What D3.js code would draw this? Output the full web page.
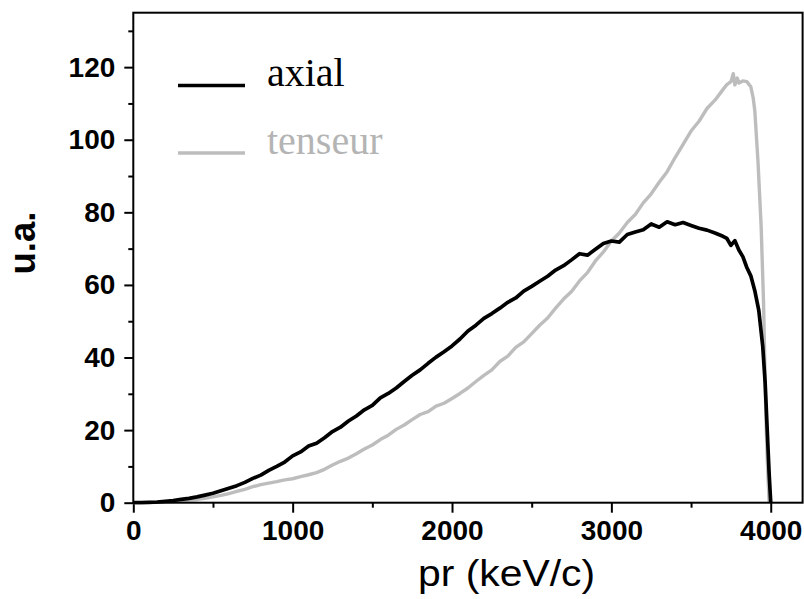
<!DOCTYPE html>
<html><head><meta charset="utf-8">
<script src="https://cdn.jsdelivr.net/npm/d3@7"></script>
<style>html,body{margin:0;padding:0;background:#fff;}svg{display:block;}</style>
</head><body>
<svg id="c" width="804" height="599"></svg>
<script>
const xTicks = [0, 1000, 2000, 3000, 4000];
const xMinor = [500, 1500, 2500, 3500];
const yTicks = [0, 20, 40, 60, 80, 100, 120];
const yMinor = [10, 30, 50, 70, 90, 110, 130];

const axialX = [0,50,100,150,200,250,300,350,400,450,500,550,600,650,700,750,800,850,900,950,1000,1050,1100,1150,1200,1250,1300,1350,1400,1450,1500,1550,1600,1650,1700,1750,1800,1850,1900,1950,2000,2050,2100,2150,2200,2250,2300,2350,2400,2450,2500,2550,2600,2650,2700,2750,2800,2850,2900,2950,3000,3050,3100,3150,3200,3250,3300,3350,3400,3450,3500,3550,3600,3650,3700,3725,3750,3775,3800,3825,3850,3875,3900,3925,3950,3965,3980,3990,4000];
const axialY = [0,0,0.1,0.2,0.4,0.6,0.9,1.2,1.6,2.1,2.6,3.3,4.0,4.7,5.6,6.7,7.6,8.9,10.0,11.2,12.9,14.0,15.6,16.4,17.9,19.6,20.8,22.5,23.9,25.6,26.8,28.9,30.1,31.6,33.4,35.1,36.6,38.4,40.1,41.6,43.2,45.1,47.3,48.9,50.8,52.1,53.6,55.2,56.4,58.3,59.6,61.0,62.4,64.1,65.3,66.9,68.6,68.2,69.8,71.4,72.1,71.8,73.9,74.6,75.2,76.8,75.9,77.4,76.6,77.2,76.4,75.6,75.1,74.3,73.4,72.8,70.9,72.2,69.6,67.8,64.8,62.5,58.4,53.0,43.0,33,18,8,0];

const tenseurX = [0,50,100,150,200,250,300,350,400,450,500,550,600,650,700,750,800,850,900,950,1000,1050,1100,1150,1200,1250,1300,1350,1400,1450,1500,1550,1600,1650,1700,1750,1800,1850,1900,1950,2000,2050,2100,2150,2200,2250,2300,2350,2400,2450,2500,2550,2600,2650,2700,2750,2800,2850,2900,2950,3000,3050,3100,3150,3200,3250,3300,3350,3400,3450,3500,3550,3600,3650,3700,3725,3750,3765,3775,3790,3800,3825,3850,3875,3890,3900,3920,3940,3955,3970,3980,3990];
const tenseurY = [0,0,0.05,0.1,0.2,0.3,0.5,0.7,0.9,1.2,1.6,2.0,2.5,3.1,3.7,4.4,5.0,5.4,5.8,6.3,6.6,7.2,7.7,8.3,9.2,10.4,11.4,12.3,13.5,14.8,15.9,17.4,18.6,20.2,21.4,22.9,24.3,25.1,26.6,27.4,28.7,30.1,31.6,33.4,35.1,36.6,38.9,40.4,42.8,44.3,46.6,48.9,50.9,53.6,56.1,58.2,61.1,63.4,66.6,69.1,72.1,74.3,77.2,79.4,82.6,85.1,88.3,91.2,95.1,98.7,102.4,105.1,108.6,110.9,113.8,115.2,116.0,118.2,115.1,117.0,115.6,116.2,116.0,114.6,111.5,108.0,94.0,76.0,55.0,23.0,10,0];

const seriesNames = ["axial", "tenseur"];
const seriesColors = ["#000000", "#bdbdbd"];

const svg = d3.select("#c");
const L = 133.3, R = 802.6, T = 12.7, B = 502.7;
const x = d3.scaleLinear().domain([0, 4200]).range([L, R]);
const y = d3.scaleLinear().domain([0, 135]).range([B, T]);

const font = "'Liberation Sans', Arial, sans-serif";

const gx = svg.append("g").attr("transform", `translate(0,${B})`)
  .call(d3.axisBottom(x).tickValues(xTicks).tickSize(10).tickPadding(7).tickFormat(d3.format("d")));
const gxm = svg.append("g").attr("transform", `translate(0,${B})`)
  .call(d3.axisBottom(x).tickValues(xMinor).tickSize(5).tickFormat(""));
const gy = svg.append("g").attr("transform", `translate(${L},0)`)
  .call(d3.axisLeft(y).tickValues(yTicks).tickSize(9).tickPadding(9).tickFormat(d3.format("d")));
const gym = svg.append("g").attr("transform", `translate(${L},0)`)
  .call(d3.axisLeft(y).tickValues(yMinor).tickSize(5).tickFormat(""));
[gx, gxm, gy, gym].forEach(g => {
  g.select(".domain").remove();
  g.selectAll(".tick line").attr("stroke", "#000").attr("stroke-width", 2);
  g.selectAll("text").attr("font-family", font).attr("font-weight", "bold")
    .attr("font-size", 28).attr("fill", "#000");
});

const line = d3.line().x(d => x(d[0])).y(d => y(d[1]));
svg.append("clipPath").attr("id", "pc").append("rect")
  .attr("x", L).attr("y", T).attr("width", R - L).attr("height", B - T + 2);
const datasets = [d3.zip(axialX, axialY), d3.zip(tenseurX, tenseurY)];
const widths = [3.7, 3.4];
[1, 0].forEach(i => {
  svg.append("path").datum(datasets[i]).attr("d", line)
    .attr("fill", "none").attr("stroke", seriesColors[i])
    .attr("stroke-width", widths[i]).attr("stroke-linejoin", "round")
    .attr("clip-path", "url(#pc)");
});

svg.append("rect").attr("x", L).attr("y", T).attr("width", R - L).attr("height", B - T)
  .attr("fill", "none").attr("stroke", "#000").attr("stroke-width", 2);

const legY = [85.5, 153];
seriesNames.forEach((n, i) => {
  svg.append("line").attr("x1", 178).attr("x2", 245).attr("y1", legY[i]).attr("y2", legY[i])
    .attr("stroke", seriesColors[i]).attr("stroke-width", 3.5);
  svg.append("text").attr("x", 267).attr("y", legY[i]).attr("dy", "0.02em")
    .attr("font-family", "'Liberation Serif', 'Times New Roman', serif")
    .attr("font-size", 40).attr("fill", i === 0 ? "#000" : "#b4b4b4").text(n);
});

svg.append("text").attr("x", 418).attr("y", 586)
  .attr("font-family", font).attr("font-size", 36).attr("fill", "#000")
  .attr("textLength", 177).attr("lengthAdjust", "spacingAndGlyphs")
  .text("pr (keV/c)");
svg.append("text").attr("transform", "translate(35,243) rotate(-90)")
  .attr("text-anchor", "middle").attr("font-family", font).attr("font-weight", "bold")
  .attr("font-size", 37).attr("fill", "#000")
  .attr("textLength", 63).attr("lengthAdjust", "spacingAndGlyphs")
  .text("u.a.");
</script>
</body></html>
